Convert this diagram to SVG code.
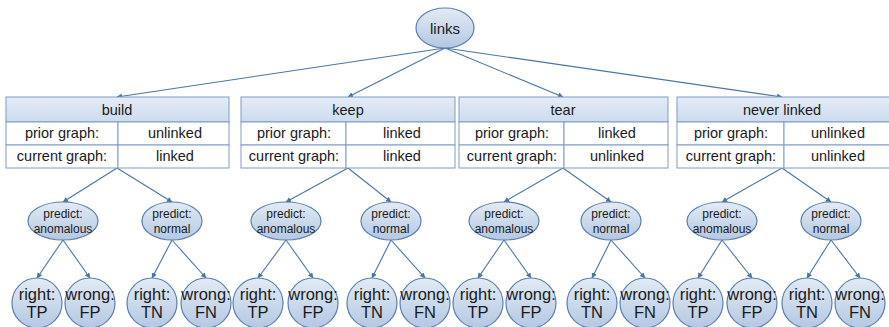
<svg xmlns="http://www.w3.org/2000/svg" width="889" height="327" viewBox="0 0 889 327">
  <defs>
    <linearGradient id="bubble" x1="0" y1="0" x2="0" y2="1">
      <stop offset="0" stop-color="#e3ebf5"/>
      <stop offset="1" stop-color="#b4c8e2"/>
    </linearGradient>
    <linearGradient id="head" x1="0" y1="0" x2="0" y2="1">
      <stop offset="0" stop-color="#e4ecf6"/>
      <stop offset="1" stop-color="#cddbee"/>
    </linearGradient>
    <marker id="arr" viewBox="0 0 6 6" refX="5.5" refY="3" markerWidth="5" markerHeight="5" orient="auto">
      <path d="M0,0 L6,3 L0,6 z" fill="#4a74a8"/>
    </marker>
  </defs>
  <style>
    .node { fill: url(#bubble); stroke: #5a7fb0; stroke-width: 1.2; }
    .hd { fill: url(#head); stroke: #7e9cc6; stroke-width: 1; }
    .cell { fill: #ffffff; stroke: #7e9cc6; stroke-width: 1; }
    .edge { stroke: #4a74a8; stroke-width: 1.1; fill: none; marker-end: url(#arr); }
    text { font-family: "Liberation Sans", Arial, sans-serif; fill: #1a1a1a; text-anchor: middle; }
    .t14 { font-size: 14.5px; }
    .t12 { font-size: 12px; }
    .t16 { font-size: 16.5px; }
  </style>

  <!-- connectors -->
  <g id="connectors">
    <line class="edge" x1="445" y1="48" x2="117" y2="97"/>
    <line class="edge" x1="445" y1="48" x2="348" y2="97"/>
    <line class="edge" x1="445" y1="48" x2="563" y2="97"/>
    <line class="edge" x1="445" y1="48" x2="782" y2="97"/>

    <line class="edge" x1="117" y1="168" x2="63" y2="202"/>
    <line class="edge" x1="117" y1="168" x2="172" y2="202"/>
    <line class="edge" x1="348" y1="168" x2="286" y2="202"/>
    <line class="edge" x1="348" y1="168" x2="391" y2="202"/>
    <line class="edge" x1="563" y1="168" x2="504" y2="202"/>
    <line class="edge" x1="563" y1="168" x2="611" y2="202"/>
    <line class="edge" x1="782" y1="168" x2="722" y2="202"/>
    <line class="edge" x1="782" y1="168" x2="831" y2="202"/>

    <line class="edge" x1="63" y1="240" x2="37" y2="278"/>
    <line class="edge" x1="63" y1="240" x2="90" y2="278"/>
    <line class="edge" x1="172" y1="240" x2="152" y2="278"/>
    <line class="edge" x1="172" y1="240" x2="206" y2="278"/>
    <line class="edge" x1="286" y1="240" x2="258" y2="278"/>
    <line class="edge" x1="286" y1="240" x2="313" y2="278"/>
    <line class="edge" x1="391" y1="240" x2="372" y2="278"/>
    <line class="edge" x1="391" y1="240" x2="425" y2="278"/>
    <line class="edge" x1="504" y1="240" x2="478" y2="278"/>
    <line class="edge" x1="504" y1="240" x2="531" y2="278"/>
    <line class="edge" x1="611" y1="240" x2="592" y2="278"/>
    <line class="edge" x1="611" y1="240" x2="645" y2="278"/>
    <line class="edge" x1="722" y1="240" x2="698" y2="278"/>
    <line class="edge" x1="722" y1="240" x2="752" y2="278"/>
    <line class="edge" x1="831" y1="240" x2="807" y2="278"/>
    <line class="edge" x1="831" y1="240" x2="860" y2="278"/>
  </g>

  <!-- root -->
  <g id="links">
    <ellipse class="node" cx="445" cy="28" rx="29" ry="20"/>
    <text class="t14" x="445" y="34" style="font-size:15px">links</text>
  </g>

  <!-- transition tables -->
  <g id="build">
    <rect class="hd" x="6" y="97" width="223" height="25"/>
    <rect class="cell" x="6" y="122" width="112" height="23"/>
    <rect class="cell" x="118" y="122" width="111" height="23"/>
    <rect class="cell" x="6" y="145" width="112" height="23"/>
    <rect class="cell" x="118" y="145" width="111" height="23"/>
    <text class="t14" x="117" y="115">build</text>
    <text class="t14" x="62" y="138">prior graph:</text>
    <text class="t14" x="175" y="138">unlinked</text>
    <text class="t14" x="62" y="161">current graph:</text>
    <text class="t14" x="175" y="161">linked</text>
  </g>
  <g id="keep">
    <rect class="hd" x="241" y="97" width="214" height="25"/>
    <rect class="cell" x="241" y="122" width="105" height="23"/>
    <rect class="cell" x="346" y="122" width="109" height="23"/>
    <rect class="cell" x="241" y="145" width="105" height="23"/>
    <rect class="cell" x="346" y="145" width="109" height="23"/>
    <text class="t14" x="348" y="115">keep</text>
    <text class="t14" x="294" y="138">prior graph:</text>
    <text class="t14" x="402" y="138">linked</text>
    <text class="t14" x="294" y="161">current graph:</text>
    <text class="t14" x="402" y="161">linked</text>
  </g>
  <g id="tear">
    <rect class="hd" x="459" y="97" width="209" height="25"/>
    <rect class="cell" x="459" y="122" width="105" height="23"/>
    <rect class="cell" x="564" y="122" width="104" height="23"/>
    <rect class="cell" x="459" y="145" width="105" height="23"/>
    <rect class="cell" x="564" y="145" width="104" height="23"/>
    <text class="t14" x="563" y="115">tear</text>
    <text class="t14" x="512" y="138">prior graph:</text>
    <text class="t14" x="617" y="138">linked</text>
    <text class="t14" x="512" y="161">current graph:</text>
    <text class="t14" x="617" y="161">unlinked</text>
  </g>
  <g id="never-linked">
    <rect class="hd" x="677" y="97" width="213" height="25"/>
    <rect class="cell" x="677" y="122" width="107" height="23"/>
    <rect class="cell" x="784" y="122" width="106" height="23"/>
    <rect class="cell" x="677" y="145" width="107" height="23"/>
    <rect class="cell" x="784" y="145" width="106" height="23"/>
    <text class="t14" x="782" y="115">never linked</text>
    <text class="t14" x="731" y="138">prior graph:</text>
    <text class="t14" x="838" y="138">unlinked</text>
    <text class="t14" x="731" y="161">current graph:</text>
    <text class="t14" x="838" y="161">unlinked</text>
  </g>

  <!-- predictions -->
  <g id="build-anomalous"><ellipse class="node" cx="63" cy="221" rx="35" ry="19"/><text class="t12" x="63" y="218">predict:</text><text class="t12" x="63" y="233">anomalous</text></g>
  <g id="build-normal"><ellipse class="node" cx="172" cy="221" rx="30" ry="19"/><text class="t12" x="172" y="218">predict:</text><text class="t12" x="172" y="233">normal</text></g>
  <g id="keep-anomalous"><ellipse class="node" cx="286" cy="221" rx="35" ry="19"/><text class="t12" x="286" y="218">predict:</text><text class="t12" x="286" y="233">anomalous</text></g>
  <g id="keep-normal"><ellipse class="node" cx="391" cy="221" rx="30" ry="19"/><text class="t12" x="391" y="218">predict:</text><text class="t12" x="391" y="233">normal</text></g>
  <g id="tear-anomalous"><ellipse class="node" cx="504" cy="221" rx="35" ry="19"/><text class="t12" x="504" y="218">predict:</text><text class="t12" x="504" y="233">anomalous</text></g>
  <g id="tear-normal"><ellipse class="node" cx="611" cy="221" rx="30" ry="19"/><text class="t12" x="611" y="218">predict:</text><text class="t12" x="611" y="233">normal</text></g>
  <g id="never-anomalous"><ellipse class="node" cx="722" cy="221" rx="35" ry="19"/><text class="t12" x="722" y="218">predict:</text><text class="t12" x="722" y="233">anomalous</text></g>
  <g id="never-normal"><ellipse class="node" cx="831" cy="221" rx="30" ry="19"/><text class="t12" x="831" y="218">predict:</text><text class="t12" x="831" y="233">normal</text></g>

  <!-- outcomes -->
  <g id="build-tp"><circle class="node" cx="37" cy="303" r="25"/><text class="t16" x="37" y="300">right:</text><text class="t16" x="37" y="318">TP</text></g>
  <g id="build-fp"><circle class="node" cx="90" cy="303" r="25"/><text class="t16" x="90" y="300">wrong:</text><text class="t16" x="90" y="318">FP</text></g>
  <g id="build-tn"><circle class="node" cx="152" cy="303" r="25"/><text class="t16" x="152" y="300">right:</text><text class="t16" x="152" y="318">TN</text></g>
  <g id="build-fn"><circle class="node" cx="206" cy="303" r="25"/><text class="t16" x="206" y="300">wrong:</text><text class="t16" x="206" y="318">FN</text></g>
  <g id="keep-tp"><circle class="node" cx="258" cy="303" r="25"/><text class="t16" x="258" y="300">right:</text><text class="t16" x="258" y="318">TP</text></g>
  <g id="keep-fp"><circle class="node" cx="313" cy="303" r="25"/><text class="t16" x="313" y="300">wrong:</text><text class="t16" x="313" y="318">FP</text></g>
  <g id="keep-tn"><circle class="node" cx="372" cy="303" r="25"/><text class="t16" x="372" y="300">right:</text><text class="t16" x="372" y="318">TN</text></g>
  <g id="keep-fn"><circle class="node" cx="425" cy="303" r="25"/><text class="t16" x="425" y="300">wrong:</text><text class="t16" x="425" y="318">FN</text></g>
  <g id="tear-tp"><circle class="node" cx="478" cy="303" r="25"/><text class="t16" x="478" y="300">right:</text><text class="t16" x="478" y="318">TP</text></g>
  <g id="tear-fp"><circle class="node" cx="531" cy="303" r="25"/><text class="t16" x="531" y="300">wrong:</text><text class="t16" x="531" y="318">FP</text></g>
  <g id="tear-tn"><circle class="node" cx="592" cy="303" r="25"/><text class="t16" x="592" y="300">right:</text><text class="t16" x="592" y="318">TN</text></g>
  <g id="tear-fn"><circle class="node" cx="645" cy="303" r="25"/><text class="t16" x="645" y="300">wrong:</text><text class="t16" x="645" y="318">FN</text></g>
  <g id="never-tp"><circle class="node" cx="698" cy="303" r="25"/><text class="t16" x="698" y="300">right:</text><text class="t16" x="698" y="318">TP</text></g>
  <g id="never-fp"><circle class="node" cx="752" cy="303" r="25"/><text class="t16" x="752" y="300">wrong:</text><text class="t16" x="752" y="318">FP</text></g>
  <g id="never-tn"><circle class="node" cx="807" cy="303" r="25"/><text class="t16" x="807" y="300">right:</text><text class="t16" x="807" y="318">TN</text></g>
  <g id="never-fn"><circle class="node" cx="860" cy="303" r="25"/><text class="t16" x="860" y="300">wrong:</text><text class="t16" x="860" y="318">FN</text></g>
</svg>
